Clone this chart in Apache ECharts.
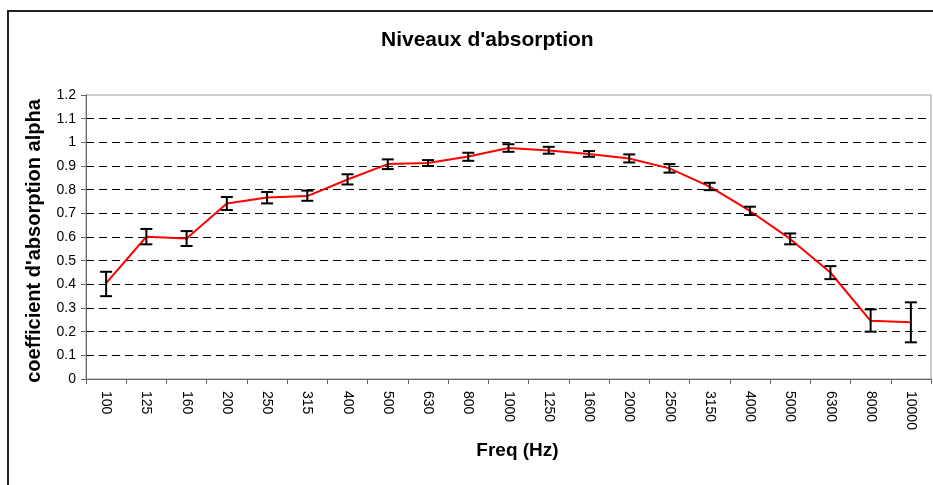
<!DOCTYPE html>
<html>
<head>
<meta charset="utf-8">
<script src="https://cdn.jsdelivr.net/npm/echarts@6/dist/echarts.min.js"></script>
<style>html,body{margin:0;padding:0;background:#fff}#c{width:933px;height:485px}</style>
</head>
<body>
<div id="c"></div>
<script>
var categories = ['100','125','160','200','250','315','400','500','630','800','1000','1250','1600','2000','2500','3150','4000','5000','6300','8000','10000'];
var alpha = [0.405,0.601,0.594,0.742,0.767,0.773,0.843,0.908,0.913,0.94,0.976,0.966,0.951,0.932,0.89,0.813,0.71,0.592,0.45,0.246,0.24];
var errLow = [0.35,0.569,0.562,0.714,0.742,0.753,0.822,0.887,0.90,0.922,0.96,0.952,0.939,0.915,0.872,0.798,0.693,0.569,0.422,0.20,0.155];
var errHigh = [0.453,0.634,0.625,0.769,0.79,0.796,0.865,0.928,0.925,0.956,0.992,0.981,0.963,0.949,0.908,0.829,0.728,0.615,0.477,0.294,0.324];
var yTicks = [0,0.1,0.2,0.3,0.4,0.5,0.6,0.7,0.8,0.9,1,1.1,1.2];

var errData = categories.map(function(c,i){ return [i, errLow[i], errHigh[i]]; });
var font = 'Arial, "Liberation Sans", sans-serif';
var chart = echarts.init(document.getElementById('c'), null, {renderer:'canvas'});
chart.setOption({
  animation:false,
  backgroundColor:'#fff',
  title:{text:"Niveaux d'absorption", left:376, top:25, textStyle:{fontFamily:font, fontWeight:'bold', fontSize:21, color:'#000'}},
  graphic:[{type:'rect', shape:{x:8, y:11, width:1000, height:1000}, style:{fill:null, stroke:'#222', lineWidth:2}, silent:true}],
  grid:{left:86, right:2, top:95, bottom:106, show:true, borderColor:'#999', borderWidth:1},
  xAxis:{type:'category', data:categories, boundaryGap:true,
    name:'Freq (Hz)', nameLocation:'middle', nameGap:62,
    nameTextStyle:{fontFamily:font, fontWeight:'bold', fontSize:19, color:'#000', padding:[0,0,0,18]},
    axisLine:{lineStyle:{color:'#666', width:1}},
    axisTick:{show:true, alignWithLabel:false, length:5, lineStyle:{color:'#666'}},
    axisLabel:{rotate:-90, fontFamily:font, fontSize:14, color:'#000', margin:12, interval:0}
  },
  yAxis:{type:'value', min:0, max:1.2, interval:0.1,
    name:"coefficient d'absorption alpha", nameLocation:'middle', nameGap:42,
    nameTextStyle:{fontFamily:font, fontWeight:'bold', fontSize:20, color:'#000', padding:[0,8,0,0]},
    axisLine:{show:true, lineStyle:{color:'#666', width:1}},
    axisTick:{show:true, length:5, lineStyle:{color:'#666'}},
    axisLabel:{fontFamily:font, fontSize:14, color:'#000', margin:10,
      formatter:function(v){ var r=Math.round(v*10)/10; return yTicks.indexOf(r)>=0 ? String(r) : ''; }},
    splitLine:{show:true, showMinLine:false, showMaxLine:false, lineStyle:{color:'#000', type:[8,5], width:1}}
  },
  series:[
    {type:'line', data:alpha, symbol:'none', lineStyle:{color:'#ff0000', width:2}, z:2},
    {type:'custom', data:errData, z:3,
      renderItem:function(params, api){
        var x = api.value(0);
        var lo = api.coord([x, api.value(1)]);
        var hi = api.coord([x, api.value(2)]);
        var hw = 6;
        var st = {stroke:'#000', lineWidth:2};
        return {type:'group', children:[
          {type:'line', shape:{x1:lo[0], y1:lo[1], x2:hi[0], y2:hi[1]}, style:st},
          {type:'line', shape:{x1:lo[0]-hw, y1:lo[1], x2:lo[0]+hw, y2:lo[1]}, style:st},
          {type:'line', shape:{x1:hi[0]-hw, y1:hi[1], x2:hi[0]+hw, y2:hi[1]}, style:st}
        ]};
      }
    }
  ]
});
</script>
</body>
</html>
